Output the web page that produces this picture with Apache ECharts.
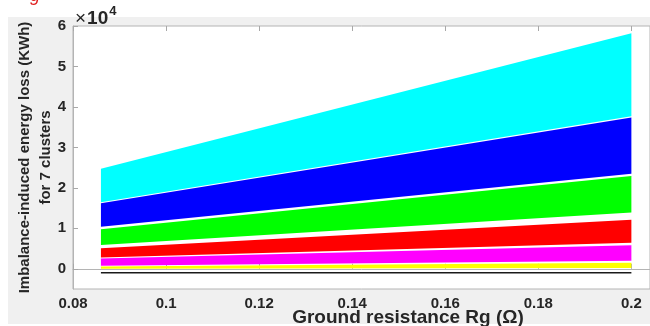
<!DOCTYPE html>
<html>
<head>
<meta charset="utf-8">
<script src="https://cdn.jsdelivr.net/npm/echarts@6.0.0/dist/echarts.min.js"></script>
<style>
  html, body { margin: 0; padding: 0; background: #fff; }
  #chart { width: 650px; height: 326px; }
</style>
</head>
<body>
<div id="chart"></div>
<script>
// ---- data (values in units of 10^4 KWh at both ends of Rg) ----
const rg = [0.086, 0.2];

const yellowBottom  = [0.0,   0.02];
const yellowTop     = [0.057, 0.15];
const magentaBottom = [0.074, 0.20];
const magentaTop    = [0.255, 0.58];
const redBottom     = [0.28,  0.64];
const redTop        = [0.51,  1.21];
const greenBottom   = [0.59,  1.39];
const greenTop      = [0.975, 2.29];
const blueBottom    = [1.04,  2.35];
const blueTop       = [1.62,  3.74];
const cyanBottom    = [1.645, 3.77];
const cyanTop       = [2.47,  5.82];
const blackLevel    = [-0.1, -0.1];

const xTicks = [0.08, 0.1, 0.12, 0.14, 0.16, 0.18, 0.2];
const yTicks = [0, 1, 2, 3, 4, 5, 6];

const bands = [
  { color: '#ffff00', bottom: yellowBottom,  top: yellowTop },
  { color: '#ff00ff', bottom: magentaBottom, top: magentaTop },
  { color: '#ff0000', bottom: redBottom,     top: redTop },
  { color: '#00ff00', bottom: greenBottom,   top: greenTop },
  { color: '#0000ff', bottom: blueBottom,    top: blueTop },
  { color: '#00ffff', bottom: cyanBottom,    top: cyanTop }
];

// =====================================================================
const FONT = '"Liberation Sans", Arial, Helvetica, sans-serif';
const chart = echarts.init(document.getElementById('chart'));

// each band = polygon between its bottom and top boundary
const bandSeries = {
  type: 'custom', silent: true,
  data: bands.map((b, k) => [rg[0], b.top[0], k]),
  renderItem: (params, api) => {
    const b = bands[params.dataIndex];
    const lower = rg.map((x, i) => api.coord([x, b.bottom[i]]));
    const upper = rg.map((x, i) => api.coord([x, b.top[i]])).reverse();
    return {
      type: 'polygon',
      shape: { points: lower.concat(upper) },
      style: { fill: b.color }
    };
  }
};

const blackSeries = {
  type: 'line', symbol: 'none', silent: true,
  lineStyle: { color: '#1a1a1a', width: 1.6 },
  data: rg.map((x, i) => [x, blackLevel[i]])
};

const tickStyle = { show: true, inside: true, length: 5, lineStyle: { color: '#a8a8a8' } };

chart.setOption({
  animation: false,
  backgroundColor: '#ffffff',
  textStyle: { fontFamily: FONT },
  graphic: [
    { type: 'rect', z: -10, shape: { x: 8, y: 17, width: 642, height: 307 }, style: { fill: '#f0f0f0' } },
    { type: 'text', z: 10, left: 30, top: -13,
      style: { text: 'g', fill: '#e02020', font: 'italic 18px ' + FONT } },
    { type: 'text', z: 10, left: 75, top: 5,
      style: {
        text: '{x|×}{b|10}{s|4}',
        rich: {
          x: { fontSize: 19, fill: '#262626', fontFamily: FONT, padding: [7, 1, 0, 0] },
          b: { fontSize: 19, fontWeight: 'bold', fill: '#262626', fontFamily: FONT, padding: [7, 0, 0, 0] },
          s: { fontSize: 13, fontWeight: 'bold', fill: '#262626', fontFamily: FONT, padding: [0, 0, 7, 1] }
        }
      } }
  ],
  grid: {
    left: 73, top: 26, right: 0, bottom: 37,
    outerBoundsMode: 'none', containLabel: false,
    show: true, backgroundColor: '#ffffff', borderColor: '#b4b4b4', borderWidth: 1
  },
  xAxis: [{
    type: 'value', min: 0.08, max: 0.204,
    name: 'Ground resistance Rg (Ω)', nameLocation: 'middle', nameGap: 19, nameMoveOverlap: false,
    nameTextStyle: { fontSize: 19, fontWeight: 'bold', color: '#262626', fontFamily: FONT, padding: [0, 0, 0, 93] },
    axisLine: { show: true, lineStyle: { color: '#b4b4b4' } },
    axisTick: Object.assign({ customValues: xTicks }, tickStyle),
    axisLabel: { customValues: xTicks, margin: 7, fontSize: 15, fontWeight: 'bold', color: '#262626', fontFamily: FONT },
    splitLine: { show: false }
  }, {
    type: 'value', min: 0.08, max: 0.204, position: 'top',
    axisLine: { show: false },
    axisTick: Object.assign({ customValues: xTicks }, tickStyle),
    axisLabel: { show: false },
    splitLine: { show: false }
  }],
  yAxis: {
    type: 'value', min: -0.5, max: 6,
    name: 'Imbalance-induced energy loss (KWh)\nfor 7 clusters',
    nameLocation: 'middle', nameRotate: 90, nameGap: 17, nameMoveOverlap: false,
    nameTextStyle: { fontSize: 15, fontWeight: 'bold', color: '#262626', fontFamily: FONT, lineHeight: 21 },
    axisLine: { show: true, lineStyle: { color: '#b4b4b4' } },
    axisTick: Object.assign({ customValues: yTicks }, tickStyle),
    axisLabel: { customValues: yTicks, margin: 7, fontSize: 15, fontWeight: 'bold', color: '#262626', fontFamily: FONT },
    splitLine: { show: false }
  },
  series: [bandSeries, blackSeries]
});
</script>
</body>
</html>
